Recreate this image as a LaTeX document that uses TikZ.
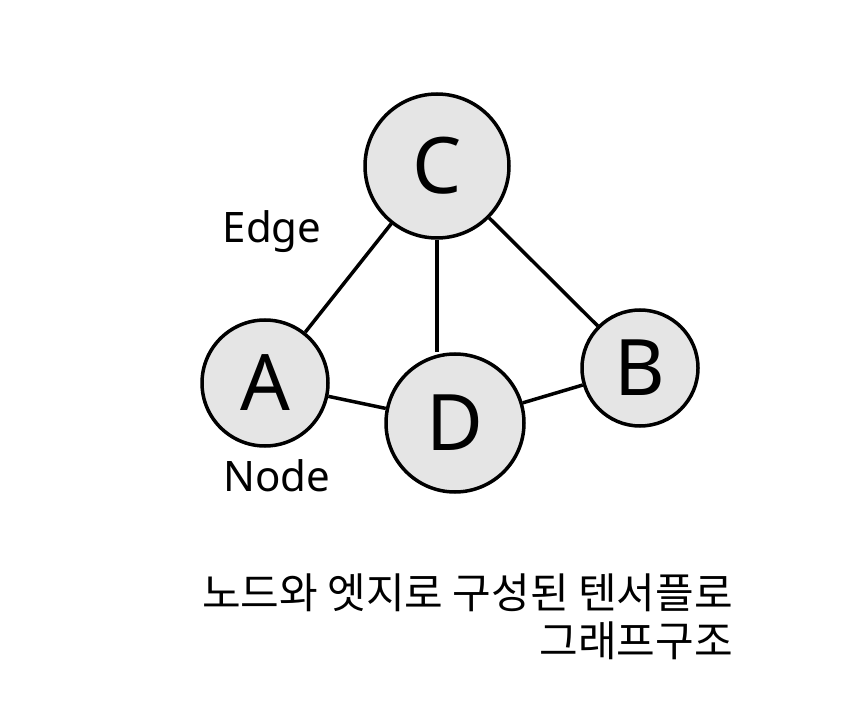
\documentclass[tikz,border=0pt]{standalone}
\usepackage{fontspec}
\setmainfont{Noto Sans}
\newfontfamily\kofont{Noto Sans CJK KR}
\usetikzlibrary{arrows.meta}

\begin{document}
\begin{tikzpicture}[
  x=1pt, y=1pt,
  vertex/.style={draw, circle, line width=3.5pt, fill=gray!20, inner sep=0pt, font=\fontsize{78}{80}\selectfont},
  label/.style={font=\fontsize{42}{44}\selectfont},
  caption/.style={font=\kofont\fontsize{42}{48}\selectfont, align=right, inner sep=0pt},
  edge/.style={line width=3.5pt}
]
\useasboundingbox (0,0) rectangle (857,-719);

\node[vertex, minimum size=144pt] (c) at (437,-166) {C};
\node[vertex, minimum size=126pt] (a) at (265,-383) {A};
\node[vertex, minimum size=138pt] (d) at (455,-423) {D};
\node[vertex, minimum size=116pt] (b) at (640,-368) {B};

\draw[edge] (a) -- (c);
\draw[edge] (c) -- (c |- d.north);
\draw[edge] (c) -- (b);
\draw[edge] (a) -- (d);
\draw[edge] (d) -- (b);

\node[label] (edgelbl) at (272,-232) {Edge};
\node[label] (nodelbl) at (277,-476) {Node};

\node[caption, anchor=north east] (cap) at (733,-574) {노드와 엣지로 구성된 텐서플로\\그래프구조};
\end{tikzpicture}
\end{document}
